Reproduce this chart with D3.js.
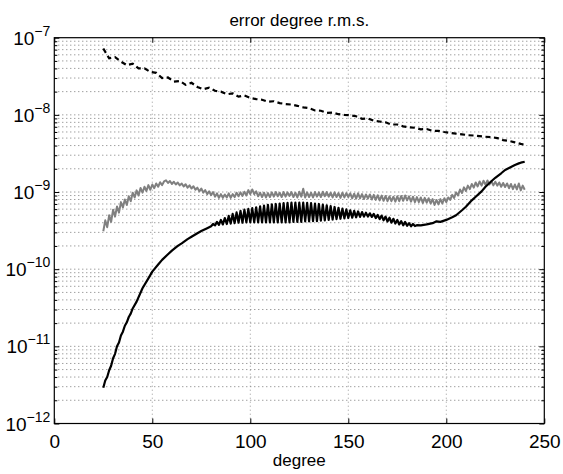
<!DOCTYPE html>
<html><head><meta charset="utf-8">
<script src="https://cdn.jsdelivr.net/npm/d3@7"></script>
<style>
body{margin:0;background:#fff}
text{font-family:"Liberation Sans",Arial,Helvetica,sans-serif;fill:#000}
</style>
</head><body>
<svg id="c" width="563" height="474"></svg>
<script>
// ---------- data ----------
const titleText = "error degree r.m.s.";
const xLabelText = "degree";
const xTicks = [0, 50, 100, 150, 200, 250];
const yExponents = [-12, -11, -10, -9, -8, -7];

// dashed black series
const dashedX = [25,28,31,34,37,40,43,46,49,52,55,58,61,64,67,70,73,76,79,82,85,88,91,94,97,100,103,106,109,112,115,118,121,124,127,130,133,136,139,142,145,148,151,154,157,160,163,166,169,172,175,178,181,184,187,190,193,196,199,202,205,208,211,214,217,220,223,226,229,232,235,238,240];
const dashedY = [7.24e-8,5.4e-8,5.6e-8,4.9e-8,4.4e-8,4.6e-8,4.0e-8,4.0e-8,3.6e-8,3.5e-8,3.0e-8,3.05e-8,2.7e-8,2.75e-8,2.45e-8,2.6e-8,2.3e-8,2.15e-8,2.25e-8,2.05e-8,2.0e-8,1.85e-8,1.9e-8,1.72e-8,1.78e-8,1.66e-8,1.6e-8,1.57e-8,1.48e-8,1.5e-8,1.42e-8,1.38e-8,1.36e-8,1.31e-8,1.25e-8,1.22e-8,1.14e-8,1.13e-8,1.06e-8,1.07e-8,1.02e-8,1.0e-8,0.99e-8,0.96e-8,0.89e-8,0.9e-8,0.84e-8,0.82e-8,0.8e-8,0.75e-8,0.75e-8,0.71e-8,0.69e-8,0.68e-8,0.65e-8,0.655e-8,0.62e-8,0.62e-8,0.6e-8,0.585e-8,0.57e-8,0.56e-8,0.545e-8,0.54e-8,0.53e-8,0.52e-8,0.515e-8,0.5e-8,0.47e-8,0.46e-8,0.44e-8,0.42e-8,0.41e-8];

// gray series, one value per degree from 25 to 240 (units 1e-10)
const grayStartDegree = 25;
const grayY = [
3.1,4.3,3.5,5.0,4.1,5.9,4.8,6.5,5.4,7.4,
6.3,8.0,6.8,8.8,7.6,9.8,8.5,10.5,9.0,11.3,
9.8,11.7,10.3,12.3,10.7,12.5,11.2,12.9,11.7,13.4,
12.3,13.7,14.2,13.1,13.9,12.7,13.6,12.5,13.3,12.2,
12.9,11.8,12.6,11.4,12.2,11.1,11.9,10.7,11.4,10.2,
11.1,9.8,10.6,9.4,10.2,9.1,10.0,8.7,9.6,8.4,
9.4,8.4,9.3,8.5,9.6,8.4,9.4,8.6,9.8,8.8,
9.9,8.9,10.1,9.0,10.6,9.4,10.8,9.4,10.2,8.8,
9.8,8.6,9.8,8.5,9.7,8.6,9.9,8.7,10.0,8.8,
9.8,8.6,10.0,8.7,9.9,8.9,10.0,8.6,9.8,8.5,
10.1,8.7,11.0,8.5,9.9,8.6,9.8,8.5,10.0,8.7,
9.9,8.6,10.1,8.8,10.0,8.7,9.8,8.5,9.9,8.6,
9.7,8.4,9.8,8.5,9.7,8.6,9.6,8.3,9.5,8.2,
9.6,8.3,9.4,8.1,9.3,8.2,9.3,8.0,9.2,7.9,
9.1,7.8,9.0,7.7,8.9,7.6,8.8,7.6,8.7,7.5,
8.8,7.6,8.9,7.7,9.0,7.8,8.8,7.5,8.7,7.4,
8.6,7.4,8.5,7.2,8.4,7.3,8.3,7.1,8.1,6.8,
7.9,6.9,8.1,7.1,8.3,7.4,8.5,7.9,9.2,8.4,
9.9,9.0,10.8,9.7,11.5,10.3,12.1,10.9,12.7,11.4,
13.3,11.8,13.7,12.1,14.0,12.4,14.1,12.5,13.8,12.2,
13.6,12.1,13.3,11.7,13.1,11.6,12.9,11.2,12.7,10.9,
12.5,10.8,12.9,10.5,12.1,10.7];
const grayUnit = 1e-10;

// solid black series
const solidX = [25,26,27,28,29,30,31,32,33,34,35,36,37,38,39,40,42,45,48,50,53,55,58,60,63,65,68,70,73,75,78,80,
81,82,83,84,85,86,87,88,89,90,91,92,93,94,95,96,97,98,99,100,
101,102,103,104,105,106,107,108,109,110,111,112,113,114,115,116,117,118,119,120,
121,122,123,124,125,126,127,128,129,130,131,132,133,134,135,136,137,138,139,140,
141,142,143,144,145,146,147,148,149,150,151,152,153,154,155,156,157,158,159,160,
161,162,163,164,165,166,167,168,169,170,171,172,173,174,175,176,177,178,179,180,
181,182,183,184,185,187,190,193,195,197,200,203,205,208,210,213,215,218,220,223,225,228,230,232,235,237,238,240];
const solidY = [2.9e-12,3.6e-12,4.0e-12,4.9e-12,5.6e-12,7.0e-12,8.0e-12,1.0e-11,1.12e-11,1.38e-11,1.55e-11,1.85e-11,2.05e-11,2.4e-11,2.65e-11,3.1e-11,3.8e-11,5.65e-11,7.6e-11,9.3e-11,1.15e-10,1.32e-10,1.56e-10,1.74e-10,2.0e-10,2.16e-10,2.45e-10,2.63e-10,2.92e-10,3.12e-10,3.4e-10,3.6e-10,
3.85e-10,3.70e-10,4.10e-10,3.75e-10,4.35e-10,3.80e-10,4.6e-10,3.85e-10,4.9e-10,3.9e-10,5.2e-10,3.95e-10,5.45e-10,4.0e-10,5.7e-10,4.0e-10,5.9e-10,4.05e-10,6.05e-10,4.05e-10,
6.2e-10,4.05e-10,6.35e-10,4.05e-10,6.5e-10,4.05e-10,6.65e-10,4.05e-10,6.8e-10,4.05e-10,6.9e-10,4.05e-10,7.0e-10,4.05e-10,7.1e-10,4.05e-10,7.2e-10,4.05e-10,7.25e-10,4.05e-10,
7.3e-10,4.1e-10,7.3e-10,4.1e-10,7.3e-10,4.1e-10,7.3e-10,4.15e-10,7.25e-10,4.15e-10,7.2e-10,4.2e-10,7.1e-10,4.2e-10,7.0e-10,4.25e-10,6.85e-10,4.3e-10,6.7e-10,4.35e-10,
6.55e-10,4.4e-10,6.4e-10,4.45e-10,6.25e-10,4.5e-10,6.1e-10,4.55e-10,5.95e-10,4.6e-10,5.8e-10,4.65e-10,5.7e-10,4.7e-10,5.6e-10,4.75e-10,5.5e-10,4.8e-10,5.4e-10,4.8e-10,
5.3e-10,4.75e-10,5.2e-10,4.6e-10,5.05e-10,4.45e-10,4.95e-10,4.3e-10,4.8e-10,4.15e-10,4.65e-10,4.0e-10,4.5e-10,3.9e-10,4.35e-10,3.8e-10,4.2e-10,3.7e-10,4.1e-10,3.65e-10,
3.95e-10,3.6e-10,3.85e-10,3.62e-10,3.72e-10,3.7e-10,3.8e-10,3.95e-10,4.17e-10,4.1e-10,4.35e-10,4.7e-10,5.0e-10,5.8e-10,6.45e-10,7.8e-10,8.7e-10,1.02e-9,1.17e-9,1.38e-9,1.53e-9,1.75e-9,1.93e-9,2.05e-9,2.24e-9,2.35e-9,2.4e-9,2.47e-9];

// ---------- drawing ----------
const svg = d3.select("#c");
const L = 54.3, R = 544.3, T = 37.7, B = 423.5;
const x = d3.scaleLinear().domain([0, 250]).range([L, R]);
const y = d3.scaleLog().domain([1e-12, 1e-7]).range([B, T]);

const grid = svg.append("g");
grid.selectAll("line.vx").data(xTicks.filter(d => d > 0 && d < 250)).join("line")
  .attr("x1", d => x(d)).attr("x2", d => x(d)).attr("y1", T).attr("y2", B)
  .attr("stroke", "#999").attr("stroke-width", 1).attr("stroke-dasharray", "1,3");
const yGridVals = [];
yExponents.forEach(e => { if (e < -7) for (let m = 1; m <= 9; m++) yGridVals.push(m * Math.pow(10, e)); });
grid.selectAll("line.hy").data(yGridVals.filter(v => v > 1e-12 * 1.01)).join("line")
  .attr("x1", L).attr("x2", R).attr("y1", d => y(d)).attr("y2", d => y(d))
  .attr("stroke", "#777").attr("stroke-width", 1).attr("stroke-dasharray", "1,3");

// series
svg.append("clipPath").attr("id", "clip").append("rect").attr("x", L).attr("y", T).attr("width", R - L).attr("height", B - T);
const plot = svg.append("g").attr("clip-path", "url(#clip)");
const line = d3.line().x(d => x(d[0])).y(d => y(d[1]));

plot.append("path")
  .datum(grayY.map((v, i) => [grayStartDegree + i, v * grayUnit]))
  .attr("d", line).attr("fill", "none").attr("stroke", "#808080").attr("stroke-width", 2).attr("stroke-linejoin", "round");
plot.append("path")
  .datum(solidX.map((d, i) => [d, solidY[i]]))
  .attr("d", line).attr("fill", "none").attr("stroke", "#000").attr("stroke-width", 2.2).attr("stroke-linejoin", "round");
plot.append("path")
  .datum(dashedX.map((d, i) => [d, dashedY[i]]))
  .attr("d", line).attr("fill", "none").attr("stroke", "#000").attr("stroke-width", 2.2).attr("stroke-dasharray", "5,3.5");

// axes box
svg.append("rect").attr("x", L).attr("y", T).attr("width", R - L).attr("height", B - T)
  .attr("fill", "none").attr("stroke", "#000").attr("stroke-width", 1.2);

// x ticks (inward, bottom and top)
const gxb = svg.append("g").attr("transform", `translate(0,${B})`)
  .call(d3.axisBottom(x).tickValues(xTicks).tickSize(-5).tickPadding(10).tickFormat(d3.format("d")));
gxb.select(".domain").remove();
gxb.selectAll("text").attr("font-size", 19).attr("font-family", '"Liberation Sans",Arial,sans-serif').attr("dy", "0.75em");
const gxt = svg.append("g").attr("transform", `translate(0,${T})`)
  .call(d3.axisTop(x).tickValues(xTicks).tickSize(-5).tickFormat(""));
gxt.select(".domain").remove();

// y ticks (inward on both sides)
const yMajor = yExponents.map(e => Math.pow(10, e));
const yMinor = yGridVals.filter(v => !yMajor.includes(v));
[[L, d3.axisLeft], [R, d3.axisRight]].forEach(([pos, fn]) => {
  const g1 = svg.append("g").attr("transform", `translate(${pos},0)`).call(fn(y).tickValues(yMajor).tickSize(-5).tickFormat(""));
  g1.select(".domain").remove();
  const g2 = svg.append("g").attr("transform", `translate(${pos},0)`).call(fn(y).tickValues(yMinor).tickSize(-3).tickFormat(""));
  g2.select(".domain").remove();
});
svg.selectAll(".tick line").attr("stroke", "#000");

// y labels 10^e
const yl = svg.append("g");
yExponents.forEach(e => {
  const t = yl.append("text").attr("x", L - 4).attr("y", y(Math.pow(10, e)) + 7)
    .attr("text-anchor", "end").attr("font-size", 19);
  t.append("tspan").text("10");
  t.append("tspan").attr("dy", -9).attr("font-size", 14).text("\u2212" + Math.abs(e));
});

// title and x label
svg.append("text").attr("x", (L + R) / 2).attr("y", 26).attr("text-anchor", "middle").attr("font-size", 17).text(titleText);
svg.append("text").attr("x", (L + R) / 2).attr("y", 466).attr("text-anchor", "middle").attr("font-size", 17).text(xLabelText);
</script>
</body></html>
